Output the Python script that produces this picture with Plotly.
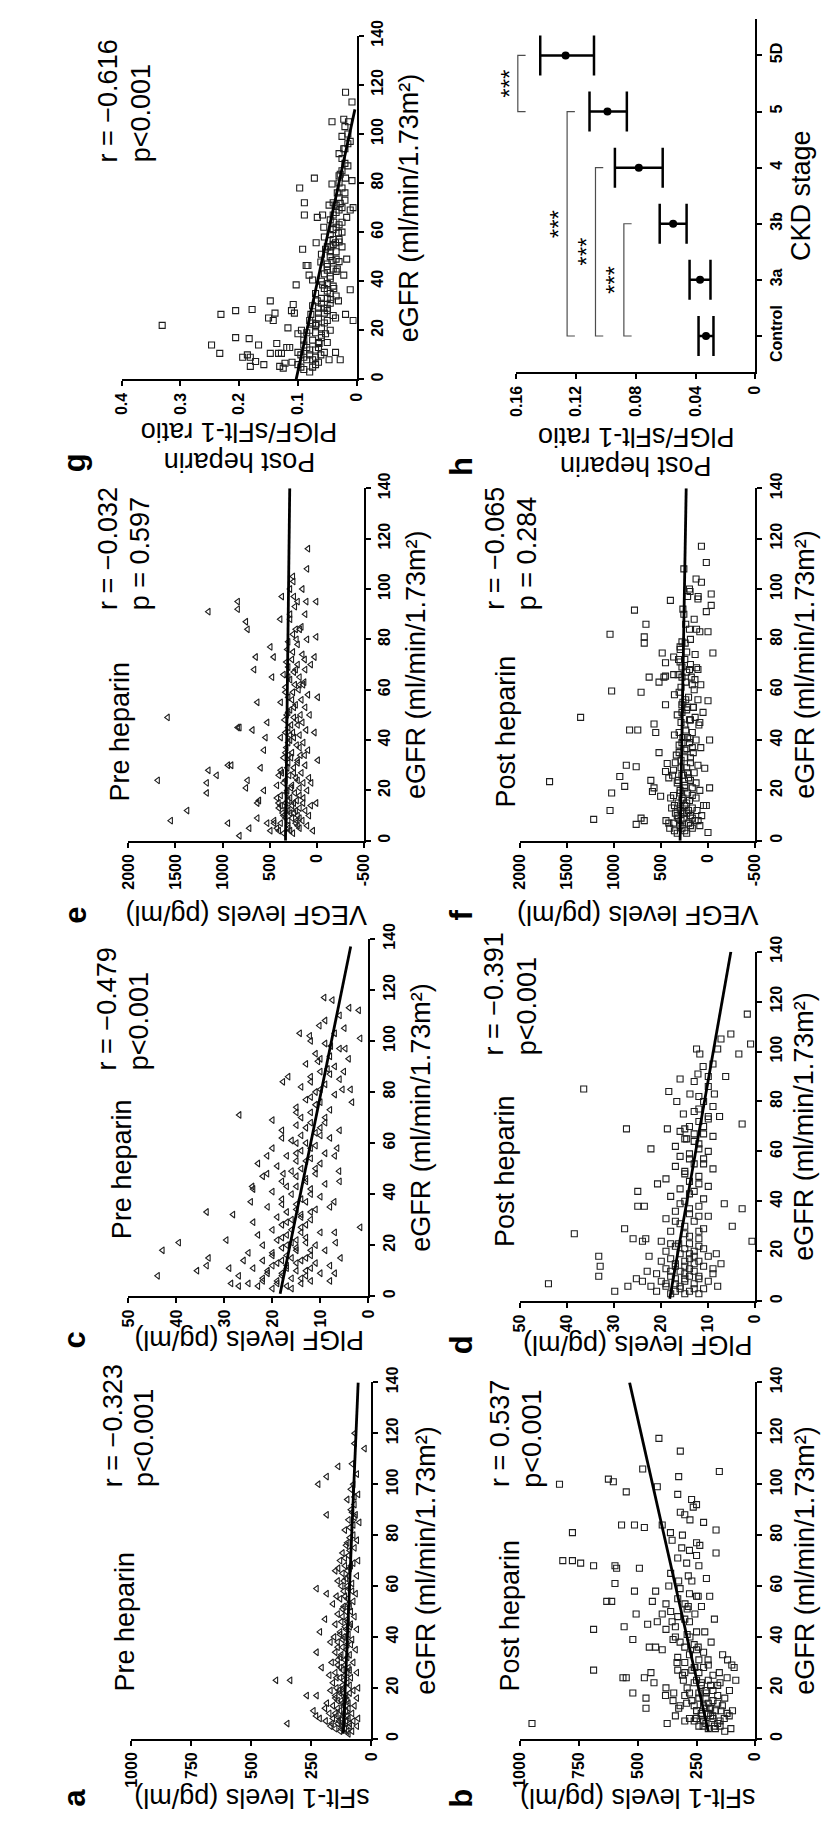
import plotly.graph_objects as go

W, H = 825, 1824
FONT = "Liberation Sans"
INK = "#000000"
GREY = "#4d4d4d"

EGFR_TICKS = [0, 20, 40, 60, 80, 100, 120, 140]
EGFR_TITLE = "eGFR (ml/min/1.73m²)"

# ---------------- data: (eGFR, level) ----------------
# a: sFlt-1, pre heparin (pg/ml)
a_pts = [(2,95),(3,130),(3,80),(4,150),(4,110),(5,170),(5,60),(5,120),(6,140),(6,90),(7,190),(7,105),(7,75),(8,160),(8,125),(8,55),(9,100),(9,145),(10,80),(10,175),(10,115),(6,350),(8,215),(9,230),
         (11,241),(12,193),(11,130),(12,95),(13,160),(13,70),(14,120),(14,185),(15,100),(15,140),(16,60),(16,110),(17,269),(17,228),(17,150),(18,90),(18,130),(19,170),(19,75),(20,115),(20,145),(20,55),
         (22,100),(22,160),(23,397),(23,338),(24,130),(24,85),(25,175),(25,110),(26,60),(26,150),(27,120),(28,207),(28,95),(29,140),(30,75),(30,165),
         (31,110),(32,130),(33,90),(34,228),(34,150),(35,65),(36,120),(37,100),(38,170),(38,140),(39,80),(40,115),(40,155),
         (41,95),(42,214),(42,130),(43,60),(44,110),(45,150),(45,85),(46,125),(47,193),(47,100),(48,70),(49,140),(50,105),
         (51,120),(52,90),(53,160),(54,75),(55,130),(55,100),(56,145),(57,186),(57,65),(58,115),(59,228),(59,95),(60,125),
         (61,80),(62,140),(63,105),(64,60),(65,120),(66,150),(67,138),(67,90),(68,110),(69,75),(70,130),(70,55),
         (72,95),(73,120),(75,70),(76,105),(78,60),(79,90),(82,110),(84,75),(85,50),(86,95),(88,186),(88,65),(89,80),
         (92,70),(94,100),(96,55),(98,85),(100,221),(100,75),(103,186),(104,60),(107,138),(108,80),(114,28),(116,70),(120,69),
         (3,100),(4,125),(5,90),(6,115),(6,165),(7,135),(8,95),(9,120),(10,150),(11,105),(12,140),(13,115),(14,95),(15,125),(16,150),(17,105),
         (18,115),(19,135),(21,120),(21,90),(23,115),(24,145),(26,100),(27,90),(28,130),(29,110),(31,140),(32,100),(33,125),(35,105),(36,140),
         (37,85),(39,120),(41,130),(43,105),(44,90),(46,100),(48,120),(50,85),(52,115),(53,95),(56,110),(58,80),(60,100),(62,115),(64,95),
         (66,100),(68,85),(71,110),(74,90),(77,100),(80,75),(83,90),(87,70),(90,85),(95,70)]
a_fit = [(2, 117), (140, 55)]

# b: sFlt-1, post heparin (pg/ml)
b_pts = [(6,950),(100,833),(70,819),(81,778),(70,778),(69,743),(68,688),(43,688),(27,688),(102,625),(101,604),(54,632),(54,611),(61,597),(68,597),(67,590),
         (84,569),(97,549),(44,558),(24,563),(24,549),(39,521),(18,521),(84,514),(58,514),(49,507),(67,493),(106,479),(83,472),(16,465),(12,465),(45,458),
         (36,451),(24,472),(26,444),(54,438),(22,431),(36,424),(46,417),(118,410),(99,417),(58,424),(35,396),(49,396),(84,396),(17,382),(6,375),(60,368),
         (81,361),(78,354),(46,354),(18,347),(40,340),(30,333),(12,326),(62,326),(89,319),(103,326),(113,319),(75,313),(53,299),(23,306),(14,292),(69,292),
         (52,285),(64,285),(86,278),(40,278),(94,271),(91,264),(49,257),(28,257),(72,250),(11,250),(56,243),(36,243),(76,236),(22,229),(52,229),(5,222),
         (42,215),(63,208),(18,208),(31,201),(12,194),(56,194),(38,188),(9,181),(47,174),(5,174),(82,167),(73,167),(21,160),(105,153),(26,153),(11,146),
         (33,139),(8,132),(31,118),(9,111),(4,104),(11,97),(28,90),(23,83),
         (5,240),(6,210),(7,260),(8,180),(9,230),(10,200),(4,170),(5,150),(8,280),(11,250),(12,190),(13,220),(14,160),(15,270),(16,210),(18,240),(19,180),
         (20,290),(21,230),(22,260),(23,200),(25,310),(26,240),(27,270),(28,220),(30,300),(33,280),(35,250),(38,320),(41,290),(44,340),(47,300),(50,360),
         (55,330),(57,280),(3,130),(7,150),(10,120),(13,140),(16,130),(19,110),(24,120),(29,100),(7,300),(13,320),(9,340),(15,350),(20,380),(17,300),(27,330),
         (4,200),(6,160),(7,220),(8,250),(9,190),(10,230),(11,170),(12,210),(13,260),(14,200),(15,180),(16,240),(17,160),(18,280),(19,210),(21,190),
         (22,150),(23,250),(25,180),(26,300),(28,260),(29,200),(31,240),(32,330),(34,220),(36,300),(37,260),(39,350),(42,250),(43,380),(46,280),
         (48,330),(51,290),(53,380),(56,250),(59,320),(62,270),(65,360),(68,240),(71,330),(74,280),(77,250),(80,310),(85,220),(88,300),(92,250),(96,330)]
b_fit = [(3, 200), (140, 535)]

# c: PlGF, pre heparin (pg/ml)
c_pts = [(8,43.9),(18,42.9),(21,39.5),(10,35.7),(12,33.7),(15,33.3),(33,33.7),(5,28.6),(32,28.2),(22,29.6),(71,26.9),(37,24.5),(43,24.2),(48,21.1),(55,21.1),
         (62,18),(84,17.8),(86,16.7),(48,17.7),(27,1.7),(101,1.7),(112,2),(76,3.4),(81,3.7),(93,4.1),(97,4.8),(37,7.1),(21,6.8),(15,5.8),(116,7.5),(117,9.2),
         (98,7.8),(58,6.5),(49,6.1),(81,5.4),(88,5.1),(106,10.2),(102,12.2),(103,14.3),(92,10.5),(89,8.5),
         (3,20),(4,17),(4,23),(5,14),(5,25),(6,19),(6,12),(7,16),(7,22),(8,27),(8,13),(9,18),(9,10),(10,21),(10,15),(11,24),(11,12),(12,17),(13,19),(13,11),
         (14,22),(14,14),(15,16),(16,20),(16,12),(17,25),(18,15),(19,18),(20,11),(20,22),(21,16),(22,19),(23,13),(24,23),(24,17),(25,10),(26,20),(27,14),
         (28,18),(29,24),(30,12),(30,16),(6,8),(9,7),(12,8),(18,9),(25,7),(14,26),(4,27),(11,29),
         (31,19),(32,14),(33,17),(34,11),(35,21),(36,15),(37,13),(38,18),(39,10),(40,16),(41,20),(42,12),(43,15),(44,9),(45,18),(46,13),(47,22),(48,11),
         (49,16),(50,14),(51,19),(52,10),(53,15),(54,12),(55,17),(56,9),(57,14),(58,20),(59,11),(60,13),(61,16),(62,8),(63,14),(64,11),(65,18),(66,10),
         (67,15),(68,12),(69,20),(70,9),(70,14),(35,8),(45,6),(55,7),(65,6),(42,24),(52,23),
         (72,12),(73,8),(74,15),(76,10),(77,13),(79,7),(80,11),(82,14),(83,9),(85,6),(86,12),(88,10),(90,7),(91,13),(94,8),(95,11),(97,6),(99,9),(100,12),
         (103,7),(105,5),(108,9),(110,6),(113,4),
         (3,16),(5,19),(6,22),(7,14),(8,18),(9,21),(10,13),(11,17),(12,20),(13,15),(14,18),(15,13),(16,17),(17,20),(18,12),(19,15),(20,17),(21,13),
         (22,15),(23,18),(25,14),(26,16),(28,13),(29,17),(31,14),(33,12),(34,15),(36,18),(38,14),(40,12),(43,17),(45,13),(47,15),(50,11),(53,13),
         (56,15),(58,12),(60,15),(63,10),(66,13),(68,9),(72,15),(75,11),(78,12),(81,10),(84,12),(87,8),(93,10)]
c_fit = [(1, 18.4), (137, 3.7)]

# d: PlGF, post heparin (pg/ml)
d_pts = [(7,44),(85,36.5),(27,38.5),(18,33.3),(14,33),(10,33.3),(4,29.9),(29,27.8),(69,27.4),(6,27.1),(25,26),(9,25.3),(44,25),(38,25),(38,23.6),(24,24),
         (25,23.3),(6,22.2),(61,22.2),(18,22.6),(47,20.8),(69,18.7),(84,18.4),(80,16.7),(23,16.3),(89,16),(75,15.3),(65,14.6),(83,13.9),(101,12.5),(91,12.2),
         (99,11.8),(94,11.1),(74,10),(83,8.7),(74,7.6),(101,8),(105,7.3),(90,6.3),(107,5.2),(99,3.5),(71,2.8),(115,1.7),(103,1),(24,0.7),(37,2.8),(30,4.9),
         (39,6.6),(19,8.3),(15,7.3),(13,9),
         (3,18),(4,14),(4,21),(5,16),(5,11),(6,19),(7,13),(7,17),(8,20),(8,10),(9,15),(9,12),(10,18),(10,14),(11,21),(11,9),(12,16),(12,13),(13,19),(14,11),
         (14,15),(15,17),(16,12),(16,20),(17,14),(18,10),(19,16),(20,13),(20,19),(21,11),(22,17),(23,14),(24,20),(25,12),(6,8),(8,24),(12,23),(3,12),
         (27,15),(28,18),(29,11),(31,16),(32,13),(33,19),(34,10),(35,14),(36,17),(38,12),(40,15),(41,11),(42,18),(44,13),(45,16),(46,10),(48,14),(49,19),
         (50,12),(52,15),(53,9),(54,17),(55,13),(57,11),(58,16),(59,14),(60,10),(62,17),(63,12),(65,15),(66,9),(67,13),(68,16),(70,11),(70,14),(72,12),
         (76,13),(78,9),(80,11),(86,10),(88,13),(95,9),
         (3,15),(4,17),(5,13),(6,16),(7,19),(8,15),(9,17),(10,12),(11,15),(12,18),(13,14),(14,17),(15,13),(16,15),(17,18),(18,13),(19,14),(21,15),
         (22,12),(23,18),(26,14),(28,12),(30,15),(32,17),(34,12),(37,14),(39,16),(43,14),(47,12),(51,15),(55,11),(57,14),(61,12),(64,13),(67,11),
         (69,15),(73,10),(77,12),(82,12),(90,10)]
d_fit = [(1, 18.2), (140, 5.2)]

# e: VEGF, pre heparin (pg/ml)
e_pts = [(24,1688),(8,1549),(12,1375),(49,1583),(23,1167),(28,1149),(19,1167),(26,1062),(30,941),(30,906),(7,941),(2,819),(95,837),(92,837),(45,819),
         (45,837),(87,750),(84,733),(91,1149),(5,715),(21,750),(24,733),(44,681),(73,646),(68,663),(15,629),(9,629),(55,629),(16,611),(29,594),(20,559),
         (36,559),(41,542),(7,524),(47,524),(4,490),(77,490),(65,472),(73,455),(15,403),(88,385),(27,368),(97,368),(50,316),(34,299),(42,281),(100,281),
         (103,246),(93,229),(8,212),(80,212),(84,177),(15,142),(62,142),(34,125),(72,125),(95,108),(116,90),(50,73),(23,56),(4,38),(43,21),(73,21),(95,3),
         (32,-14),(81,3),(15,3),(57,-14),
         (3,350),(4,280),(5,420),(5,180),(6,300),(6,100),(7,380),(7,220),(8,150),(8,450),(9,260),(9,330),(10,200),(10,80),(11,360),(11,240),(12,120),
         (12,300),(13,400),(13,180),(14,260),(14,60),(15,330),(16,210),(17,280),(17,140),(18,380),(19,230),(20,100),(20,310),(21,180),(22,260),(22,420),
         (23,140),(24,330),(25,220),(25,80),(26,290),(27,160),(28,380),(29,240),(30,120),(31,300),(32,200),(33,350),(34,170),(35,260),(36,90),(37,320),
         (38,210),(39,140),(40,280),(41,380),(42,180),(43,250),(44,110),(45,300),(46,200),(47,150),(48,340),(49,240),(50,170),(52,280),(53,120),(54,220),
         (55,380),(56,160),(57,300),(58,90),(59,250),(60,190),(61,330),(62,230),(63,130),(64,280),(65,180),(66,350),(67,240),(68,120),(69,300),(70,200),
         (70,60),(72,260),(74,150),(76,310),(78,200),(80,100),(82,250),(85,160),(88,280),(90,120),(95,200),(100,150),(105,250),(108,100),
         (3,250),(4,400),(5,300),(6,200),(7,450),(8,300),(9,180),(10,350),(11,280),(12,220),(13,320),(14,380),(15,240),(16,300),(17,420),(18,180),
         (19,320),(21,270),(23,350),(24,200),(26,400),(27,240),(29,310),(31,200),(33,270),(35,330),(37,180),(39,300),(41,240),(43,330),(46,270),
         (48,210),(51,300),(53,240),(56,260),(59,330),(62,180),(65,300),(68,220),(71,320),(75,250),(79,300),(84,220),(90,280),(97,240)]
e_fit = [(0, 330), (140, 285)]

# f: VEGF, post heparin (pg/ml)
f_pts = [(23.5,1688),(49,1358),(8.5,1219),(12,1045),(19,1028),(59.5,1028),(82,1045),(25.5,941),(21.6,889),(30,872),(44,837),(44,750),(91.6,785),
         (29.4,767),(6.5,767),(9,715),(8,681),(81,681),(78.5,681),(86,663),(59,715),(65,629),(24,611),(19.6,594),(21,577),(46.4,577),(43,559),(63,524),
         (35,524),(17.7,507),(74.6,490),(65,472),(65.4,455),(70.7,455),(54,455),(27.5,455),(30.7,437),(25,420),(95.5,403),(66,368),(73,368),(31,351),
         (72,316),(76,299),(54,281),(26,264),(78.5,246),(36.6,229),(40.5,194),(99,194),(53,159),(64,142),(68.7,125),(84,125),(8,108),(97,108),(47,90),
         (102.7,73),(51,56),(28.8,38),(14,21),(91,21),(83,3),(55.6,3),(21,-14),(98,-31),(93.5,-31),(40,-14),(3.3,3),(74.6,-49),(110.5,21),(117,73),
         (3,330),(4,250),(5,410),(5,170),(6,300),(6,90),(7,370),(7,210),(8,140),(8,450),(9,260),(9,320),(10,190),(10,70),(11,350),(11,230),(12,120),
         (12,290),(13,390),(13,170),(14,250),(14,50),(15,320),(16,200),(17,270),(17,130),(18,370),(19,220),(20,90),(20,300),(21,170),(22,250),(23,130),
         (24,320),(25,210),(26,280),(27,150),(28,370),(29,230),(30,110),(32,290),(33,190),(34,340),(35,160),(36,250),(37,80),(38,310),(39,200),(40,130),
         (41,270),(42,360),(43,170),(44,240),(46,100),(47,290),(48,190),(49,140),(50,330),(52,230),(53,160),(55,270),(56,110),(57,210),(58,360),(60,150),
         (61,290),(62,80),(63,240),(65,180),(66,320),(67,230),(68,110),(69,280),(70,190),(72,250),(74,140),(77,300),(80,190),(83,90),(86,240),(88,150),
         (92,270),(96,110),(100,200),(104,130),(108,260),
         (3,230),(4,360),(5,280),(6,190),(7,420),(8,290),(9,170),(10,330),(11,260),(12,210),(13,300),(14,360),(15,230),(16,280),(17,400),(18,170),
         (19,300),(21,250),(23,330),(24,190),(26,380),(27,220),(29,290),(31,190),(33,250),(35,310),(37,170),(39,280),(41,220),(43,310),(46,250),
         (48,200),(51,280),(53,220),(56,240),(59,310),(62,170),(65,280),(68,200),(71,300),(75,230),(79,280),(84,200),(90,260),(97,220)]
f_fit = [(0, 300), (140, 235)]

# g: PlGF/sFlt-1 ratio, post heparin
g_pts = [(22,0.331),(14,0.247),(10.6,0.233),(26.5,0.231),(28,0.206),(17,0.206),(28.5,0.178),(16.6,0.183),(5.3,0.181),(9,0.181),(9,0.194),(10,0.186),
         (7.3,0.172),(14,0.167),(6,0.158),(25,0.15),(32,0.147),(10.6,0.147),(24,0.142),(27,0.139),(14.6,0.136),(10.6,0.133),(5.3,0.131),(10.6,0.128),
         (4.6,0.125),(6.6,0.122),(13,0.119),(21,0.117),(13,0.114),(28,0.111),(30.5,0.108),(27,0.106),(38.5,0.103),(18.6,0.1),(78,0.097),(20,0.094),
         (53,0.092),(72,0.089),(67,0.089),(46.4,0.086),(46.4,0.083),(42.5,0.081),(26.5,0.078),(40.5,0.075),(82,0.072),(55.7,0.069),(22.6,0.069),
         (66,0.067),(32,0.067),(14.6,0.064),(47.8,0.061),(10,0.061),(67,0.058),(38.5,0.058),(29,0.056),(62,0.056),(53,0.053),(18.6,0.053),(44.5,0.05),
         (29,0.05),(71,0.047),(8,0.047),(54,0.044),(32.5,0.044),(79.6,0.042),(48.4,0.042),(105,0.042),(37,0.039),(64,0.039),(25,0.036),(55.7,0.036),
         (11,0.036),(76,0.033),(45,0.033),(59.7,0.031),(32,0.031),(83.6,0.028),(71.7,0.028),(8,0.028),(99,0.025),(54,0.025),(42.5,0.022),(94,0.022),
         (117,0.019),(82,0.019),(66,0.017),(49,0.017),(105,0.014),(69,0.011),(36.5,0.011),(113,0.008),(81,0.008),(24,0.006),(97,0.011),(70,0.006),
         (106,0.022),(26.5,0.019),
         (4,0.09),(5,0.075),(6,0.1),(7,0.065),(8,0.085),(9,0.07),(10,0.095),(11,0.055),(12,0.08),(13,0.065),(14,0.09),(15,0.05),(16,0.075),(18,0.06),
         (19,0.085),(20,0.045),(22,0.07),(23,0.055),(24,0.08),(26,0.04),(27,0.065),(28,0.05),(30,0.075),(31,0.045),(33,0.06),(34,0.035),(35,0.07),
         (36,0.05),(38,0.04),(40,0.06),(41,0.045),(43,0.055),(44,0.035),(46,0.05),(48,0.03),(50,0.045),(51,0.06),(52,0.035),(54,0.05),(56,0.03),
         (57,0.04),(58,0.055),(60,0.025),(61,0.04),(63,0.03),(65,0.045),(68,0.035),(70,0.025),(72,0.04),(74,0.03),(76,0.02),(80,0.03),(85,0.025),
         (88,0.02),(92,0.03),(96,0.015),
         (3,0.08),(5,0.095),(6,0.07),(7,0.11),(8,0.075),(9,0.09),(10,0.08),(11,0.1),(12,0.07),(13,0.085),(15,0.065),(16,0.09),(17,0.06),(19,0.07),
         (20,0.08),(21,0.06),(23,0.075),(24,0.05),(25,0.065),(27,0.055),(29,0.065),(31,0.06),(33,0.05),(35,0.045),(37,0.055),(39,0.05),(42,0.045),
         (45,0.04),(47,0.05),(49,0.035),(52,0.045),(55,0.04),(57,0.03),(59,0.045),(62,0.035),(64,0.025),(67,0.04),(69,0.03),(71,0.035),(73,0.02),
         (78,0.025),(83,0.03),(87,0.015),(90,0.025),(94,0.02),(100,0.015),(103,0.02)]
g_fit = [(0, 0.103), (110, 0.003)]

# h: PlGF/sFlt-1 ratio by CKD stage, post heparin (mean with error range)
h_stage = ["Control", "3a", "3b", "4", "5", "5D"]
h_mean = [0.033, 0.037, 0.055, 0.078, 0.099, 0.127]
h_hi = [0.038, 0.044, 0.064, 0.094, 0.111, 0.144]
h_lo = [0.028, 0.030, 0.046, 0.062, 0.086, 0.108]
h_brackets = [("Control", "3b", 0.088), ("Control", "4", 0.107), ("Control", "5", 0.126), ("5", "5D", 0.159)]

# ---------------- panel layout (pixel boxes: left, right, top, bottom) ----------------
scatter_panels = [
    dict(key="a", pts=a_pts, fit=a_fit, sym="triangle-left-open", box=(125, 370, 1380, 1740),
         vrange=[1000, 0], vticks=[0, 250, 500, 750, 1000], vtitle="sFlt-1 levels (pg/ml)", vt_y=1800,
         tag="Pre heparin", tag_xy=(118, 1622), stats=("r = −0.323", "p<0.001"), st_xy=(122, 1488), et_x=425),
    dict(key="b", pts=b_pts, fit=b_fit, sym="square-open", box=(522, 762, 1380, 1740),
         vrange=[1000, 0], vticks=[0, 250, 500, 750, 1000], vtitle="sFlt-1 levels (pg/ml)", vt_y=1800,
         tag="Post heparin", tag_xy=(512, 1615), stats=("r = 0.537", "p<0.001"), st_xy=(518, 1488), et_x=812),
    dict(key="c", pts=c_pts, fit=c_fit, sym="triangle-left-open", box=(122, 367, 932, 1293),
         vrange=[50, 0], vticks=[0, 10, 20, 30, 40, 50], vtitle="PlGF levels (pg/ml)", vt_y=1337,
         tag="Pre heparin", tag_xy=(115, 1165), stats=("r = −0.479", "p<0.001"), st_xy=(117, 1067), et_x=420),
    dict(key="d", pts=d_pts, fit=d_fit, sym="square-open", box=(522, 762, 945, 1298),
         vrange=[50, 0], vticks=[0, 10, 20, 30, 40, 50], vtitle="PlGF levels (pg/ml)", vt_y=1342,
         tag="Post heparin", tag_xy=(507, 1167), stats=("r = −0.391", "p<0.001"), st_xy=(512, 1052), et_x=812),
    dict(key="e", pts=e_pts, fit=e_fit, sym="triangle-left-open", box=(122, 362, 477, 833),
         vrange=[2000, -500], vticks=[-500, 0, 500, 1000, 1500, 2000], vtitle="VEGF levels (pg/ml)", vt_y=908,
         tag="Pre heparin", tag_xy=(113, 723), stats=("r = −0.032", "p = 0.597"), st_xy=(117, 602), et_x=415),
    dict(key="f", pts=f_pts, fit=f_fit, sym="square-open", box=(522, 762, 477, 833),
         vrange=[2000, -500], vticks=[-500, 0, 500, 1000, 1500, 2000], vtitle="VEGF levels (pg/ml)", vt_y=908,
         tag="Post heparin", tag_xy=(507, 723), stats=("r = −0.065", "p = 0.284"), st_xy=(512, 602), et_x=812),
    dict(key="g", pts=g_pts, fit=g_fit, sym="square-open", box=(115, 355, 20, 367),
         vrange=[0.4, 0], vticks=[0, 0.1, 0.2, 0.3, 0.4], vtitle="PlGF/sFlt-1 ratio", vt_y=420,
         tag=None, tag_xy=None, stats=("r = −0.616", "p<0.001"), st_xy=(118, 150), et_x=408),
]
H_BOX = (518, 762, 3, 360)
STATS_LINE_GAP = 33  # px between the r and p lines

LETTER_X = {"a": 67, "c": 67, "e": 67, "g": 67, "b": 462, "d": 462, "f": 462, "h": 462}


def px(x):
    return x / W


def py(y):
    return 1 - y / H


TICKFONT = dict(family=FONT, size=16, color=INK, weight="bold")
TITLEFONT = dict(family=FONT, size=27, color=INK)
LETTERFONT = dict(family=FONT, size=31, color=INK, weight="bold")


def axis_common():
    return dict(showline=True, linecolor=INK, linewidth=2, ticks="outside", ticklen=5, tickwidth=1.5,
                tickcolor=INK, showgrid=False, zeroline=False, tickangle=-90, tickfont=TICKFONT, fixedrange=True)


fig = go.Figure()
annotations = []
layout_axes = {}


def fmt(v):
    return f"{v:g}"


for i, p in enumerate(scatter_panels, start=1):
    x0, x1, y0, y1 = p["box"]
    xn = "x" if i == 1 else f"x{i}"
    yn = "y" if i == 1 else f"y{i}"
    xa = axis_common()
    xa.update(domain=[px(x0), px(x1)], range=p["vrange"], anchor=yn, side="bottom",
              tickvals=p["vticks"], ticktext=[fmt(v) for v in p["vticks"]])
    ya = axis_common()
    ya.update(domain=[py(y1), py(y0)], range=[0, 140], anchor=xn, side="right",
              tickvals=EGFR_TICKS, ticktext=[str(v) for v in EGFR_TICKS])
    layout_axes["xaxis" if i == 1 else f"xaxis{i}"] = xa
    layout_axes["yaxis" if i == 1 else f"yaxis{i}"] = ya

    eg, val = zip(*p["pts"])
    fig.add_trace(go.Scatter(x=list(val), y=list(eg), mode="markers", xaxis=xn, yaxis=yn,
                             marker=dict(symbol=p["sym"], size=6, color="#1e1e1e", line=dict(width=1.1, color="#1e1e1e")),
                             hoverinfo="skip"))
    feg, fval = zip(*p["fit"])
    fig.add_trace(go.Scatter(x=list(fval), y=list(feg), mode="lines", xaxis=xn, yaxis=yn,
                             line=dict(color=INK, width=2.8), hoverinfo="skip"))

    # axis titles
    annotations.append(dict(text=EGFR_TITLE, x=px(p["et_x"]), y=py((y0 + y1) / 2), textangle=-90,
                            font=TITLEFONT))
    annotations.append(dict(text=p["vtitle"], x=px((x0 + x1) / 2), y=py(p["vt_y"]), textangle=180,
                            font=TITLEFONT))
    letter_y = p["vt_y"]
    if p["key"] == "g":
        annotations.append(dict(text="Post heparin", x=px((x0 + x1) / 2), y=py(p["vt_y"] + 31), textangle=180,
                                font=TITLEFONT))
        letter_y = p["vt_y"] + 31
    annotations.append(dict(text=p["key"], x=px(LETTER_X[p["key"]]), y=py(letter_y), textangle=-90,
                            font=LETTERFONT))
    if p["tag"]:
        annotations.append(dict(text=p["tag"], x=px(p["tag_xy"][0]), y=py(p["tag_xy"][1]), textangle=-90,
                                font=TITLEFONT))
    # correlation statistics: two lines sharing a common start
    sx, sy = p["st_xy"]
    r_txt, p_txt = p["stats"]
    annotations.append(dict(text=r_txt, x=px(sx - STATS_LINE_GAP / 2), y=py(sy), textangle=-90,
                            yanchor="bottom", font=TITLEFONT))
    annotations.append(dict(text=p_txt.replace("<", "&lt;"), x=px(sx + STATS_LINE_GAP / 2), y=py(sy),
                            textangle=-90, yanchor="bottom", font=TITLEFONT))

# ---------------- panel h: ratio by CKD stage ----------------
hx0, hx1, hy0, hy1 = H_BOX
H_RANGE = [0.16, 0]
xa = axis_common()
h_vticks = [0, 0.04, 0.08, 0.12, 0.16]
xa.update(domain=[px(hx0), px(hx1)], range=H_RANGE, anchor="y8", side="bottom",
          tickvals=h_vticks, ticktext=[fmt(v) for v in h_vticks])
ya = axis_common()
ya.update(domain=[py(hy1), py(hy0)], range=[-0.65, 5.65], anchor="x8", side="right",
          tickvals=list(range(len(h_stage))), ticktext=h_stage)
layout_axes["xaxis8"] = xa
layout_axes["yaxis8"] = ya

stage_pos = list(range(len(h_stage)))
fig.add_trace(go.Scatter(
    x=h_mean, y=stage_pos, mode="markers", xaxis="x8", yaxis="y8",
    marker=dict(symbol="circle", size=8, color=INK),
    error_x=dict(type="data", symmetric=False,
                 array=[hi - m for hi, m in zip(h_hi, h_mean)],
                 arrayminus=[m - lo for m, lo in zip(h_mean, h_lo)],
                 thickness=2.5, width=20, color=INK),
    hoverinfo="skip"))

# significance brackets with their stars (stars placed in axis-domain units so they
# stay visible just beyond the 0.16 end of the axis)
bx, by = [], []
for s0, s1, lvl in h_brackets:
    i0, i1 = h_stage.index(s0), h_stage.index(s1)
    bx += [lvl - 0.0052, lvl, lvl, lvl - 0.0052, None]
    by += [i0, i0, i1, i1, None]
    star_v = lvl + 0.0058
    frac = (H_RANGE[0] - star_v) / (H_RANGE[0] - H_RANGE[1])
    annotations.append(dict(text="***", x=frac, y=(i0 + i1) / 2, xref="x8 domain", yref="y8",
                            textangle=-90, font=dict(family=FONT, size=24, color=INK)))
fig.add_trace(go.Scatter(x=bx, y=by, mode="lines", xaxis="x8", yaxis="y8",
                         line=dict(color=GREY, width=1.2), hoverinfo="skip"))

annotations.append(dict(text="CKD stage", x=px(808), y=py((hy0 + hy1) / 2), textangle=-90, font=TITLEFONT))
annotations.append(dict(text="PlGF/sFlt-1 ratio", x=px((hx0 + hx1) / 2), y=py(425), textangle=180, font=TITLEFONT))
annotations.append(dict(text="Post heparin", x=px((hx0 + hx1) / 2), y=py(455), textangle=180, font=TITLEFONT))
annotations.append(dict(text="h", x=px(LETTER_X["h"]), y=py(455), textangle=-90, font=LETTERFONT))

for a in annotations:
    a.setdefault("xref", "paper")
    a.setdefault("yref", "paper")
    a.setdefault("xanchor", "center")
    a.setdefault("yanchor", "middle")
    a["showarrow"] = False

fig.update_layout(width=W, height=H, margin=dict(l=0, r=0, t=0, b=0),
                  paper_bgcolor="white", plot_bgcolor="white", showlegend=False,
                  font=dict(family=FONT, color=INK), annotations=annotations, **layout_axes)

fig.write_html("out.html")
